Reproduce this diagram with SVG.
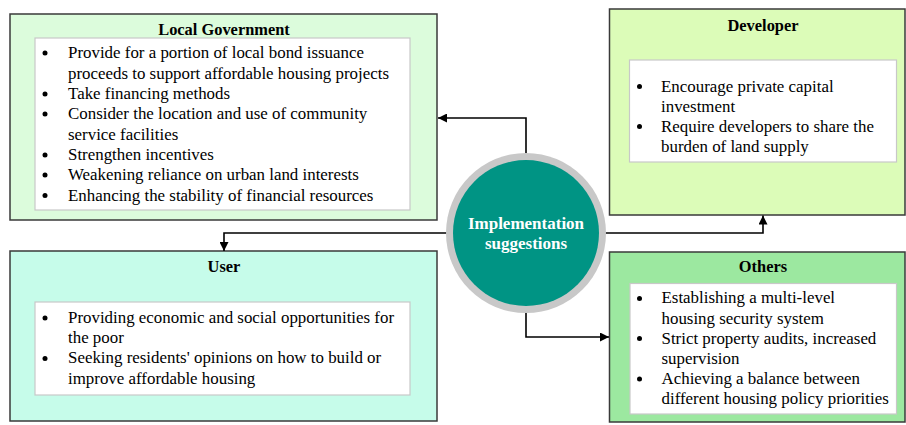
<svg xmlns="http://www.w3.org/2000/svg" width="906" height="425" viewBox="0 0 906 425">
<defs>
<style>
.box{stroke:#3a3a3a;stroke-width:1.5}
.inner{fill:#ffffff;stroke:#c8c8c8;stroke-width:1.2}
.title{font-family:"Liberation Serif","Times New Roman",serif;font-weight:bold;font-size:16.4px;fill:#000;text-anchor:middle}
.txt{font-family:"Liberation Serif","Times New Roman",serif;font-size:16.9px;fill:#000}
.ctext{font-family:"Liberation Serif","Times New Roman",serif;font-weight:bold;font-size:17px;fill:#ffffff;text-anchor:middle}
.conn{fill:none;stroke:#000;stroke-width:1.6}
.dot{fill:#000}
</style>
<marker id="arr" viewBox="0 0 10 10" refX="10" refY="5" markerWidth="10" markerHeight="9" markerUnits="userSpaceOnUse" orient="auto">
<path d="M0,0 L10,5 L0,10 z" fill="#000"/>
</marker>
</defs>
<rect width="906" height="425" fill="#ffffff"/>

<g id="local-government">
<rect class="box" x="10" y="14" width="427" height="206" fill="#dcfcdc"/>
<text class="title" x="224" y="35">Local Government</text>
<rect class="inner" x="35" y="38" width="375" height="172"/>
<circle class="dot" cx="45" cy="53" r="2.5"/>
<text class="txt" x="68" y="58.3">Provide for a portion of local bond issuance</text>
<text class="txt" x="68" y="78.6">proceeds to support affordable housing projects</text>
<circle class="dot" cx="45" cy="94" r="2.5"/>
<text class="txt" x="68" y="99">Take financing methods</text>
<circle class="dot" cx="45" cy="114" r="2.5"/>
<text class="txt" x="68" y="119.3">Consider the location and use of community</text>
<text class="txt" x="68" y="139.6">service facilities</text>
<circle class="dot" cx="45" cy="155" r="2.5"/>
<text class="txt" x="68" y="160">Strengthen incentives</text>
<circle class="dot" cx="45" cy="175" r="2.5"/>
<text class="txt" x="68" y="180.3">Weakening reliance on urban land interests</text>
<circle class="dot" cx="45" cy="195.5" r="2.5"/>
<text class="txt" x="68" y="200.6">Enhancing the stability of financial resources</text>
</g>

<g id="developer">
<rect class="box" x="609.5" y="9" width="295.5" height="206" fill="#dcfcb8"/>
<text class="title" x="763" y="31">Developer</text>
<rect class="inner" x="629.5" y="60" width="267" height="102"/>
<circle class="dot" cx="639.5" cy="86.5" r="2.5"/>
<text class="txt" x="661" y="91.5">Encourage private capital</text>
<text class="txt" x="661" y="111.5">investment</text>
<circle class="dot" cx="639.5" cy="126.5" r="2.5"/>
<text class="txt" x="661" y="131.5">Require developers to share the</text>
<text class="txt" x="661" y="151.5">burden of land supply</text>
</g>

<g id="user">
<rect class="box" x="10" y="251" width="427" height="170" fill="#c6fcea"/>
<text class="title" x="224" y="272.3">User</text>
<rect class="inner" x="35" y="302" width="375" height="93"/>
<circle class="dot" cx="45" cy="318" r="2.5"/>
<text class="txt" x="68" y="322.7">Providing economic and social opportunities for</text>
<text class="txt" x="68" y="343">the poor</text>
<circle class="dot" cx="45" cy="358.5" r="2.5"/>
<text class="txt" x="68" y="363.3">Seeking residents' opinions on how to build or</text>
<text class="txt" x="68" y="383.5">improve affordable housing</text>
</g>

<g id="others">
<rect class="box" x="609.5" y="252" width="295.5" height="170" fill="#9ce8a0"/>
<text class="title" x="763" y="272.3">Others</text>
<rect class="inner" x="630" y="283.5" width="266.5" height="130.5"/>
<circle class="dot" cx="639.5" cy="298.5" r="2.5"/>
<text class="txt" x="661.5" y="303.3">Establishing a multi-level</text>
<text class="txt" x="661.5" y="323.5">housing security system</text>
<circle class="dot" cx="639.5" cy="338.5" r="2.5"/>
<text class="txt" x="661.5" y="343.5">Strict property audits, increased</text>
<text class="txt" x="661.5" y="363.5">supervision</text>
<circle class="dot" cx="639.5" cy="379" r="2.5"/>
<text class="txt" x="661.5" y="384">Achieving a balance between</text>
<text class="txt" x="661.5" y="404">different housing policy priorities</text>
</g>

<g id="connectors">
<path class="conn" d="M526,157 V118 H438" marker-end="url(#arr)"/>
<path class="conn" d="M447,233 H224 V251" marker-end="url(#arr)"/>
<path class="conn" d="M605,233 H763 V215.5" marker-end="url(#arr)"/>
<path class="conn" d="M526,310 V337 H609" marker-end="url(#arr)"/>
</g>

<g id="implementation-suggestions">
<circle cx="526" cy="233" r="80" fill="#c8c8c8"/>
<circle cx="526" cy="233" r="73" fill="#009484"/>
<text class="ctext" x="526" y="229">Implementation</text>
<text class="ctext" x="526" y="248.5">suggestions</text>
</g>
</svg>
